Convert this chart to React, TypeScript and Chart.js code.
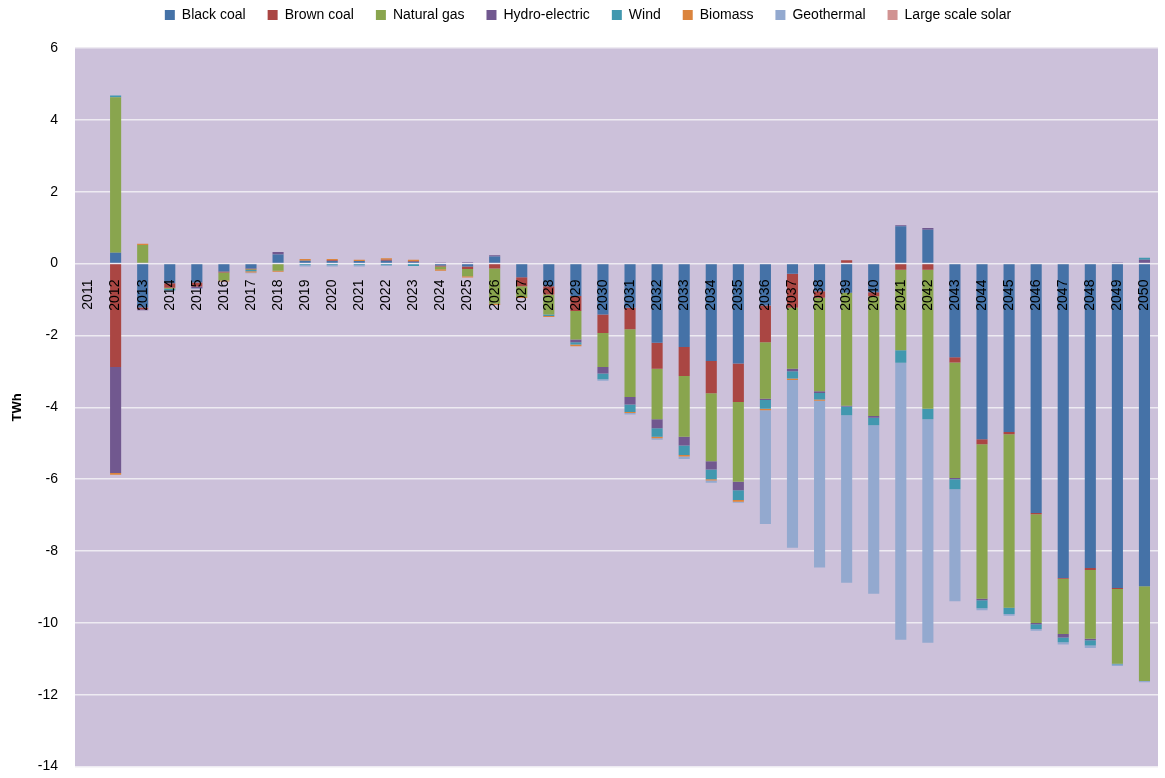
import React, { useEffect, useRef } from 'react';
import { Chart, registerables } from 'chart.js';

Chart.register(...registerables);

const years = [
  '2011', '2012', '2013', '2014', '2015', '2016', '2017', '2018', '2019', '2020',
  '2021', '2022', '2023', '2024', '2025', '2026', '2027', '2028', '2029', '2030',
  '2031', '2032', '2033', '2034', '2035', '2036', '2037', '2038', '2039', '2040',
  '2041', '2042', '2043', '2044', '2045', '2046', '2047', '2048', '2049', '2050',
];

const blackCoal = [
  0, 0.3, -1.22, -0.55, -0.53, -0.22, -0.14, 0.25, 0.08, 0.07,
  0.07, 0.08, 0.05, -0.05, -0.08, 0.2, -0.38, -0.63, -0.9, -1.42,
  -1.23, -2.2, -2.32, -2.71, -2.78, -1.17, -0.28, -0.77, -0.81, -0.8,
  1.04, 0.94, -2.61, -4.89, -4.69, -6.94, -8.75, -8.47, -9.03, -8.98,
];

const brownCoal = [
  0, -2.88, -0.05, -0.12, -0.11, -0.03, -0.02, 0, 0, 0.02,
  0, 0.03, 0.02, -0.03, -0.07, -0.14, -0.25, -0.23, -0.42, -0.51,
  -0.6, -0.73, -0.81, -0.9, -1.07, -1.02, -0.95, -0.18, 0.09, -0.11,
  -0.17, -0.17, -0.14, -0.14, -0.06, -0.04, -0.02, -0.06, -0.03, 0.02,
];

const naturalGas = [
  0, 4.33, 0.52, -0.03, 0, -0.22, -0.02, -0.2, 0, 0,
  0, 0, -0.02, -0.08, -0.2, -0.98, -0.3, -0.56, -0.79, -0.95,
  -1.88, -1.4, -1.69, -1.89, -2.22, -1.57, -1.7, -2.6, -3.15, -3.33,
  -2.24, -3.87, -3.22, -4.3, -4.83, -3.02, -1.54, -1.91, -2.08, -2.64,
];

const hydroElectric = [
  0, -2.95, -0.03, 0, -0.05, 0, 0, 0.07, 0, 0,
  0, 0, 0, 0.03, 0.04, 0.03, 0, 0, -0.08, -0.18,
  -0.21, -0.25, -0.24, -0.23, -0.24, -0.04, -0.07, -0.05, -0.02, -0.05,
  0.03, 0.05, -0.03, -0.04, 0, -0.04, -0.1, -0.04, 0.03, 0.09,
];

const wind = [
  0, 0.05, 0, -0.04, 0, 0, -0.03, 0, -0.04, -0.04,
  -0.04, -0.04, -0.05, 0, 0, 0, 0, -0.04, -0.06, -0.16,
  -0.21, -0.24, -0.27, -0.27, -0.27, -0.24, -0.2, -0.18, -0.24, -0.21,
  -0.35, -0.29, -0.28, -0.22, -0.17, -0.13, -0.13, -0.15, -0.02, 0.05,
];

const biomass = [
  0, -0.05, 0.03, 0.02, 0.02, -0.03, -0.04, -0.03, 0.05, 0.04,
  0.04, 0.04, 0.04, -0.04, -0.04, -0.03, -0.03, -0.03, -0.05, 0,
  -0.03, -0.04, -0.04, -0.04, -0.05, -0.04, -0.04, -0.04, 0, 0,
  0, 0, 0, 0, 0, 0, 0, 0, 0, 0,
];

const geothermal = [
  0, 0, 0, -0.02, -0.02, 0, -0.02, 0, -0.04, -0.04,
  -0.04, -0.03, 0, 0, 0, 0, 0, 0, 0, -0.04,
  -0.04, -0.04, -0.07, -0.06, -0.03, -3.17, -4.67, -4.64, -4.66, -4.69,
  -7.71, -6.22, -3.12, -0.06, -0.05, -0.05, -0.06, -0.07, -0.04, -0.03,
];

const largeScaleSolar = [
  0, 0, 0, 0, 0, 0, 0, 0, 0, 0,
  0, 0, 0, 0, 0, 0, 0, 0, 0, 0,
  0, 0, 0, 0, 0, 0, 0, 0, 0, 0,
  0, 0, 0, 0, 0, 0, 0, 0, 0, 0,
];

const seriesNames = [
  'Black coal', 'Brown coal', 'Natural gas', 'Hydro-electric',
  'Wind', 'Biomass', 'Geothermal', 'Large scale solar',
];
const seriesColors = [
  '#4572A7', '#AA4643', '#89A54E', '#71588F',
  '#4198AF', '#DB843D', '#93A9CF', '#D19392',
];
const seriesData = [
  blackCoal, brownCoal, naturalGas, hydroElectric,
  wind, biomass, geothermal, largeScaleSolar,
];

const FONT = "'Liberation Sans', Arial, sans-serif";
const PLOT_BG = '#CCC1DA';
const GRID = '#EEEBF2';

const plotBg = {
  id: 'plotBg',
  beforeDraw(chart: any) {
    const { ctx, chartArea } = chart;
    if (!chartArea) return;
    ctx.save();
    ctx.fillStyle = PLOT_BG;
    ctx.fillRect(chartArea.left, chartArea.top, chartArea.right - chartArea.left, chartArea.bottom - chartArea.top);
    ctx.restore();
  },
};

const legendPatch = {
  id: 'legendPatch',
  beforeLayout(chart: any) {
    const lg = chart.legend;
    if (lg && !lg.__patched) {
      const origFit = lg.fit.bind(lg);
      lg.fit = function () {
        origFit();
        this.height += 17;
      };
      const origDraw = lg.draw.bind(lg);
      lg.draw = function () {
        this.left += 9;
        this.right += 9;
        this.top += 1;
        origDraw();
        this.left -= 9;
        this.right -= 9;
        this.top -= 1;
      };
      lg.__patched = true;
    }
  },
};

export default function App() {
  const canvasRef = useRef<HTMLCanvasElement | null>(null);

  useEffect(() => {
    if (!canvasRef.current) return;
    const chart = new Chart(canvasRef.current, {
      type: 'bar',
      data: {
        labels: years,
        datasets: seriesNames.map((name, i) => ({
          label: name,
          data: seriesData[i],
          backgroundColor: seriesColors[i],
          borderWidth: 0,
          barPercentage: 0.41,
          categoryPercentage: 1.0,
        })),
      },
      options: {
        animation: false,
        responsive: true,
        maintainAspectRatio: false,
        layout: { padding: { top: -15, left: 0, right: 7, bottom: 10 } },
        plugins: {
          legend: {
            position: 'top',
            labels: {
              boxWidth: 10,
              boxHeight: 10,
              padding: 22,
              color: '#000',
              font: { size: 14, family: FONT },
            },
          },
          tooltip: { enabled: false },
        },
        scales: {
          x: {
            stacked: true,
            position: { y: 0 } as any,
            grid: { display: false, drawTicks: true, tickLength: 13, tickColor: 'rgba(0,0,0,0)' },
            border: { display: false },
            ticks: {
              minRotation: 90,
              maxRotation: 90,
              autoSkip: false,
              padding: 3,
              color: '#000',
              font: { size: 14, family: FONT },
              z: 1,
            },
            afterFit(scale: any) {
              scale.height = 0;
            },
          },
          y: {
            stacked: true,
            min: -14,
            max: 6,
            ticks: {
              stepSize: 2,
              color: '#000',
              padding: 3,
              font: { size: 14, family: FONT },
            },
            grid: { color: GRID, lineWidth: 1.5, drawTicks: true, tickLength: 14, tickColor: 'rgba(0,0,0,0)' },
            border: { display: false },
            title: {
              display: true,
              text: 'TWh',
              color: '#000',
              font: { size: 13, weight: 'bold', family: FONT },
              padding: { top: 10, bottom: 0 },
            },
            afterFit(scale: any) {
              scale.width = 75;
            },
          },
        },
      },
      plugins: [plotBg, legendPatch],
    } as any);
    return () => chart.destroy();
  }, []);

  return (
    <div style={{ position: 'fixed', left: 0, top: 0, width: 1165, height: 778, background: '#fff' }}>
      <canvas ref={canvasRef} />
    </div>
  );
}
